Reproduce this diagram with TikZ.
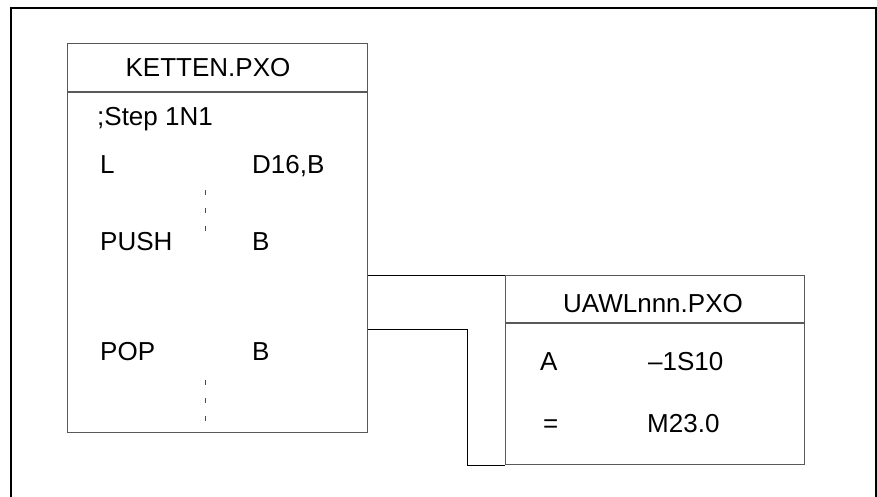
\documentclass[tikz,border=0pt]{standalone}
\usepackage{fontspec}
\setmainfont{Liberation Sans}
\usetikzlibrary{positioning, calc}

\begin{document}
\begin{tikzpicture}[x=1pt, y=-1pt, font=\fontsize{26}{30}\selectfont,
    prgbox/.style={draw=black!65, line width=1.3pt, rectangle, inner sep=0pt, anchor=north west},
    lbl/.style={anchor=base west, inner sep=0pt},
    ttl/.style={anchor=base, inner sep=0pt},
    wire/.style={draw=black, line width=1pt},
    gap/.style={draw=black!70, line width=1pt, dash pattern=on 4.5pt off 13.5pt}]
    \useasboundingbox (0,0) rectangle (877,497);

    % Rahmen
    \draw[line width=1.3pt] (11,497) -- (11,8) -- (876,8) -- (876,497);

    % Bausteine
    \node[prgbox, minimum width=300pt, minimum height=389pt] (ketten) at (67,43) {};
    \node[prgbox, minimum width=299pt, minimum height=189pt] (uawl) at (505,275) {};
    \draw[draw=black!65, line width=1.3pt] ($(ketten.north west)+(0,49)$) -- ($(ketten.north east)+(0,49)$);
    \draw[draw=black!65, line width=1.3pt] ($(uawl.north west)+(0,48)$) -- ($(uawl.north east)+(0,48)$);

    % Titel
    \node[ttl] (kettenT) at (208,77) {KETTEN.PXO};
    \node[ttl] (uawlT) at (653,312) {UAWLnnn.PXO};

    % Anweisungen KETTEN
    \node[lbl] (step) at (97,126) {;Step 1N1};
    \foreach \n/\op/\arg/\y in {l/L/D16{,}B/174, push/PUSH/B/250, pop/POP/B/360} {
        \node[lbl] (\n Op) at (100,\y) {\op};
        \node[lbl] (\n Arg) at (252,\y) {\arg};
    }
    \draw[gap] (205,190) -- (205,232);
    \draw[gap] (205,380) -- (205,422);

    % Anweisungen UAWL
    \node[lbl] (aOp) at (540,370) {A};
    \node[lbl] (aArg) at (648,370) {–1S10};
    \node[lbl] (eqOp) at (543,432) {=};
    \node[lbl] (eqArg) at (647,432) {M23.0};

    % Aufruf
    \coordinate (callA) at (ketten.east |- uawl.north west);
    \coordinate (retA) at ($(ketten.north east)+(0,286)$);
    \coordinate (retB) at (467,0 |- retA);
    \coordinate (retC) at (467,0 |- uawl.south west);
    \draw[wire] (callA) -- (uawl.north west);
    \draw[wire] (retA) -- (retB) -- (retC) -- (uawl.south west);
\end{tikzpicture}
\end{document}
